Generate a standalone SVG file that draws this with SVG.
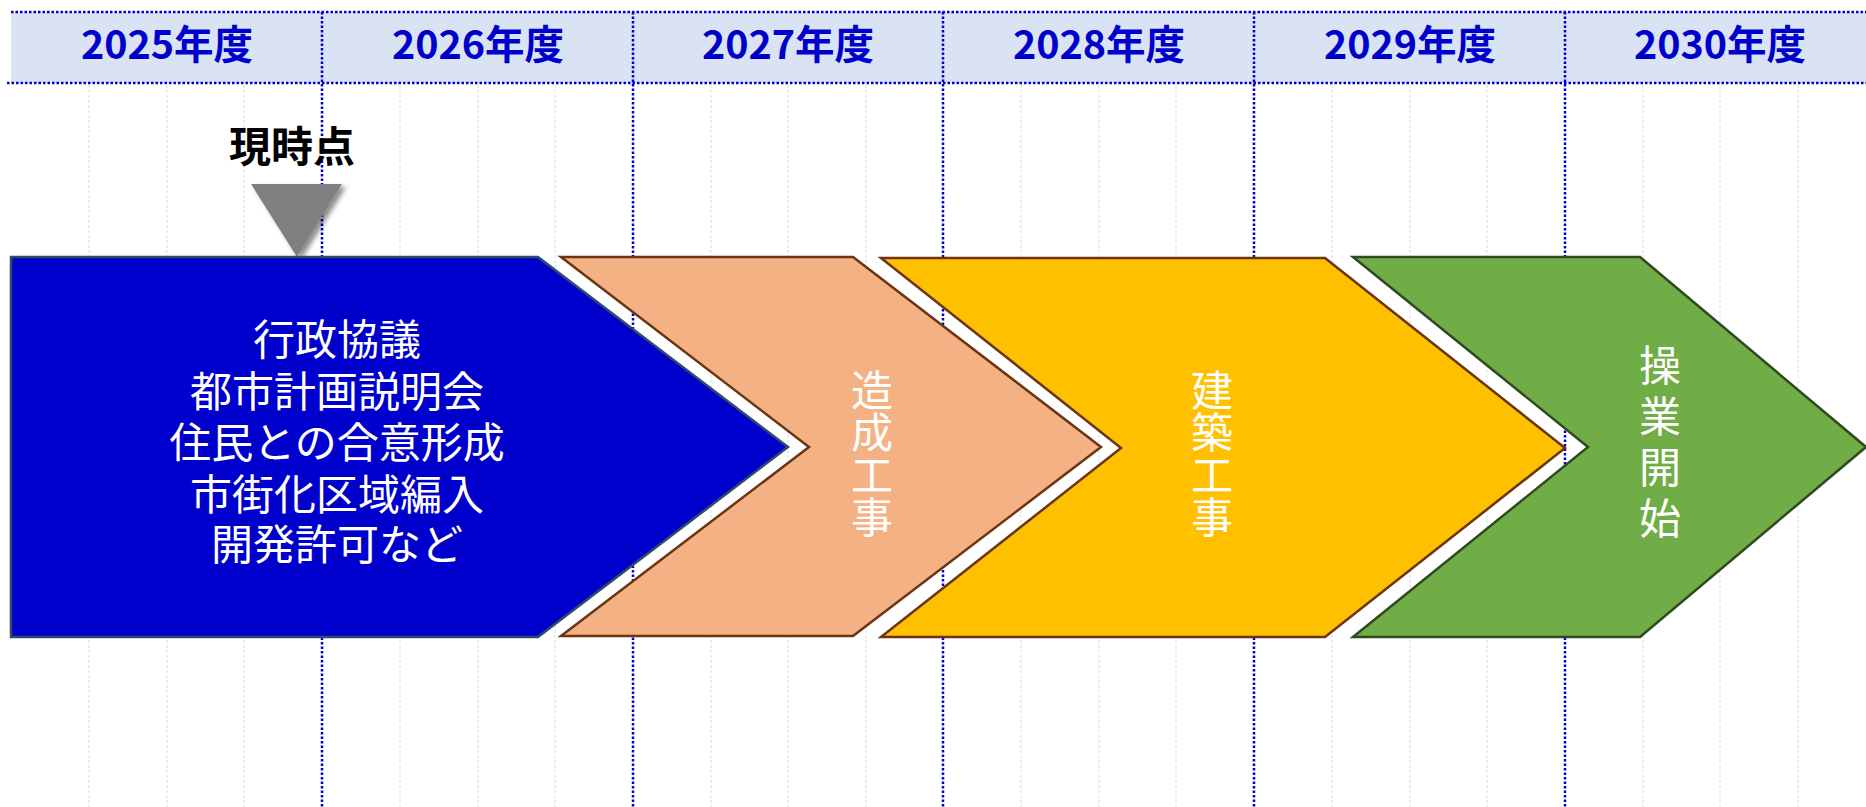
<svg xmlns="http://www.w3.org/2000/svg" width="1866" height="807" viewBox="0 0 1866 807">
<defs>
<style>
.hdr{font-family:"Noto Sans CJK JP","Noto Sans",sans-serif;font-weight:bold;font-size:39.5px;fill:#0000CC;text-anchor:middle}
.yline{stroke:#0000CC;stroke-width:2.5;stroke-dasharray:2.5 2;fill:none}
.qline{stroke:#D6E3F3;stroke-width:1.2;stroke-dasharray:3 2;fill:none}
.lbl{font-family:"Noto Sans CJK JP","Noto Sans",sans-serif;font-size:42px;fill:#FFFFFF;text-anchor:middle}
.vlbl{font-family:"Noto Sans CJK JP","Noto Sans",sans-serif;font-size:42px;fill:#FFFFFF;writing-mode:vertical-rl;text-anchor:start}
.now{font-family:"Noto Sans CJK JP","Noto Sans",sans-serif;font-weight:bold;font-size:42px;fill:#000000;text-anchor:middle}
</style>
<filter id="sh" x="-30%" y="-30%" width="160%" height="160%">
<feDropShadow dx="4" dy="3" stdDeviation="2.5" flood-color="#000" flood-opacity="0.45"/>
</filter>
</defs>
<rect width="1866" height="807" fill="#FFFFFF"/>
<g id="grid">
<rect x="11" y="12" width="1855" height="71" fill="#DAE3F3"/>
<g class="qline">
<line x1="89" y1="85" x2="89" y2="807"/><line x1="167" y1="85" x2="167" y2="807"/><line x1="244" y1="85" x2="244" y2="807"/>
<line x1="400" y1="85" x2="400" y2="807"/><line x1="478" y1="85" x2="478" y2="807"/><line x1="555" y1="85" x2="555" y2="807"/>
<line x1="711" y1="85" x2="711" y2="807"/><line x1="788" y1="85" x2="788" y2="807"/><line x1="866" y1="85" x2="866" y2="807"/>
<line x1="1021" y1="85" x2="1021" y2="807"/><line x1="1099" y1="85" x2="1099" y2="807"/><line x1="1176" y1="85" x2="1176" y2="807"/>
<line x1="1332" y1="85" x2="1332" y2="807"/><line x1="1410" y1="85" x2="1410" y2="807"/><line x1="1487" y1="85" x2="1487" y2="807"/>
<line x1="1643" y1="85" x2="1643" y2="807"/><line x1="1720" y1="85" x2="1720" y2="807"/><line x1="1798" y1="85" x2="1798" y2="807"/>
</g>
<g class="yline">
<line x1="11" y1="12" x2="1866" y2="12"/>
<line x1="7" y1="83" x2="1866" y2="83"/>
<line x1="322" y1="12" x2="322" y2="807"/>
<line x1="633" y1="12" x2="633" y2="807"/>
<line x1="943" y1="12" x2="943" y2="807"/>
<line x1="1254" y1="12" x2="1254" y2="807"/>
<line x1="1565" y1="12" x2="1565" y2="807"/>
</g>
<text class="hdr" x="167" y="59">2025年度</text>
<text class="hdr" x="478" y="59">2026年度</text>
<text class="hdr" x="788" y="59">2027年度</text>
<text class="hdr" x="1099" y="59">2028年度</text>
<text class="hdr" x="1410" y="59">2029年度</text>
<text class="hdr" x="1720" y="59">2030年度</text>
</g>
<g id="now">
<text class="now" x="292" y="162">現時点</text>
<polygon points="251,184 342,184 297,257" fill="#808080" filter="url(#sh)"/>
</g>
<g id="phase1">
<polygon points="11,257 538,257 788,447 538,637 11,637" fill="#0000CC" stroke="#2F4B6B" stroke-width="2.5"/>
<text class="lbl" x="337"><tspan x="337" y="355">行政協議</tspan><tspan x="337" y="407">都市計画説明会</tspan><tspan x="337" y="458">住民との合意形成</tspan><tspan x="337" y="510">市街化区域編入</tspan><tspan x="337" y="560">開発許可など</tspan></text>
</g>
<g id="phase2">
<polygon points="561,257 853,257 1101,447 853,636 561,636 809,447" fill="#F4B183" stroke="#6B3412" stroke-width="2.5"/>
<text class="vlbl" x="872" y="369" letter-spacing="0.5">造成工事</text>
</g>
<g id="phase3">
<polygon points="881,258 1325,258 1565,448 1325,637 881,637 1121,448" fill="#FFC000" stroke="#6B3412" stroke-width="2.5"/>
<text class="vlbl" x="1212" y="369" letter-spacing="0.5">建築工事</text>
</g>
<g id="phase4">
<polygon points="1353,257 1640,257 1866,447 1640,637 1353,637 1588,447" fill="#70AD47" stroke="#2E4A1E" stroke-width="2.5"/>
<text class="vlbl" x="1660" y="344" letter-spacing="9">操業開始</text>
</g>
<g id="connectors"></g>
</svg>
